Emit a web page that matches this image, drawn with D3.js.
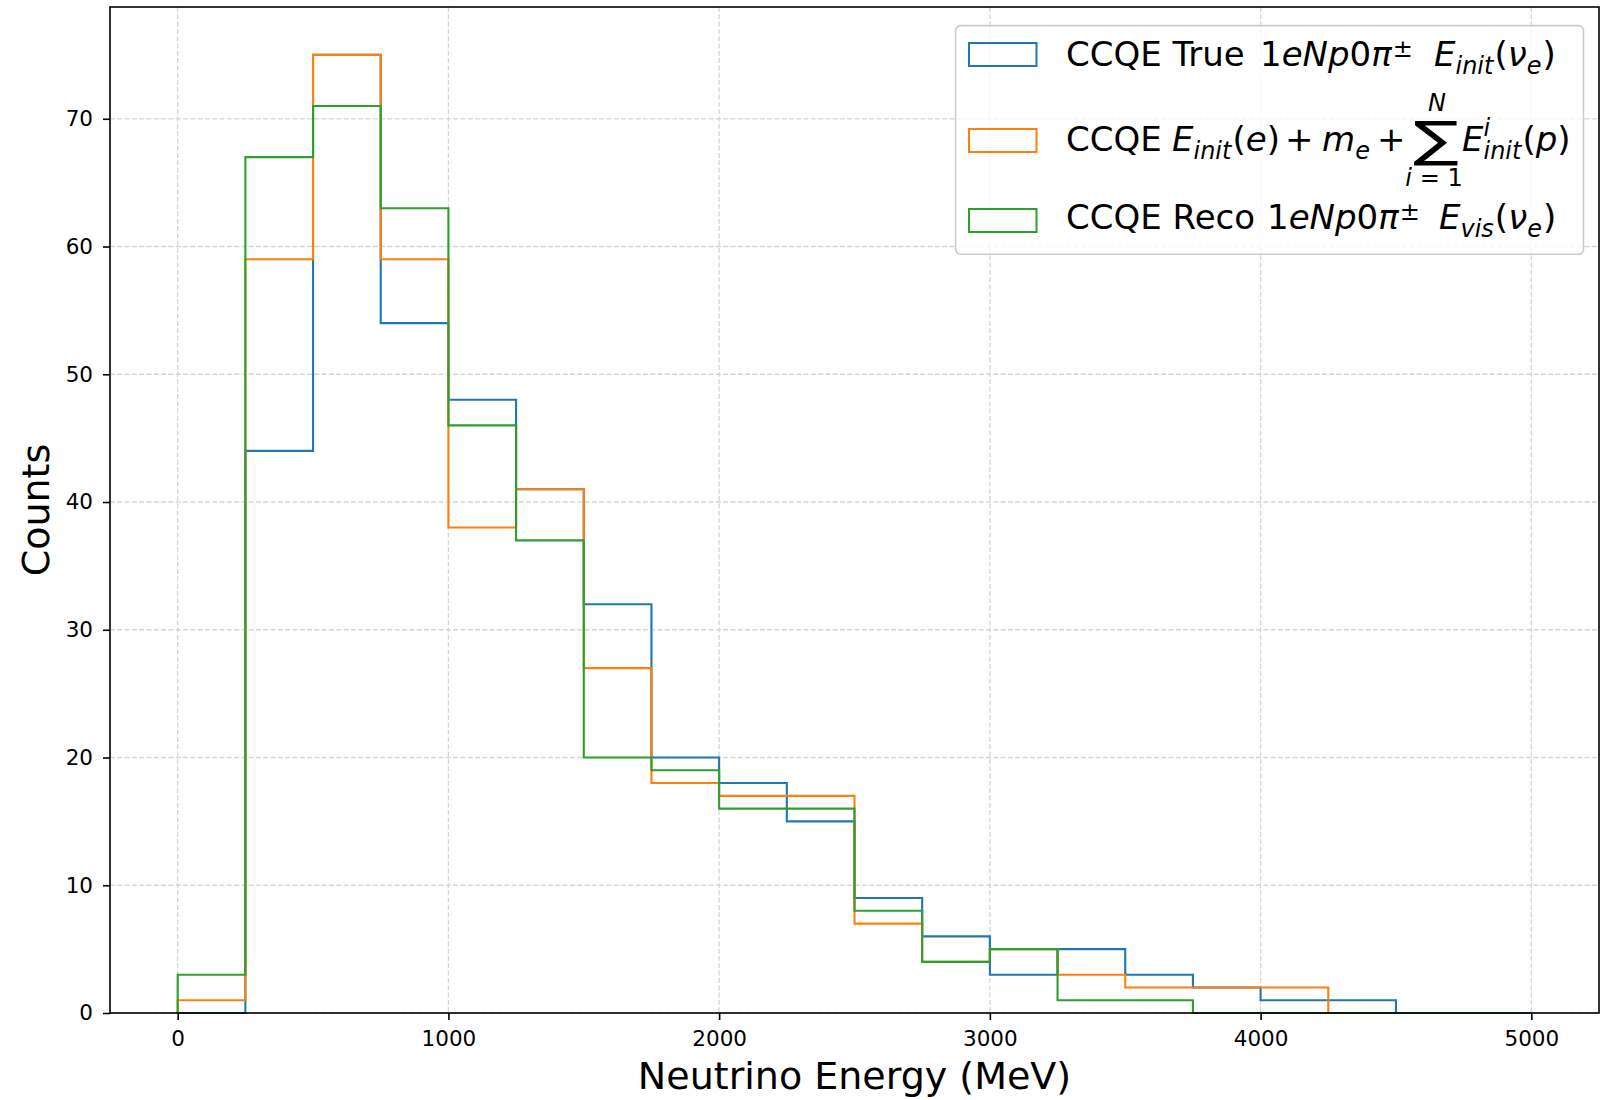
<!DOCTYPE html>
<html>
<head>
<meta charset="utf-8">
<script src="https://cdn.jsdelivr.net/npm/d3@7"></script>
<style>
  html, body { margin: 0; padding: 0; background: #fff; }
  svg { display: block; font-family: "DejaVu Sans", sans-serif; }
</style>
</head>
<body>
<svg id="chart" width="1606" height="1100"></svg>
<script>
// ---------------- data ----------------
const binEdges = [0, 250, 500, 750, 1000, 1250, 1500, 1750, 2000, 2250, 2500,
                  2750, 3000, 3250, 3500, 3750, 4000, 4250, 4500, 4750, 5000];
const trueCounts  = [0, 44, 75, 54, 48, 41, 32, 20, 18, 15, 9, 6, 3, 5, 3, 2, 1, 1, 0, 0];
const initCounts  = [1, 59, 75, 59, 38, 41, 27, 18, 17, 17, 7, 4, 5, 3, 2, 2, 2, 0, 0, 0];
const recoCounts  = [3, 67, 71, 63, 46, 37, 20, 19, 16, 16, 8, 4, 5, 1, 1, 0, 0, 0, 0, 0];
const seriesColors = ["#1f77b4", "#ff7f0e", "#2ca02c"];
const xTicks = [0, 1000, 2000, 3000, 4000, 5000];
const yTicks = [0, 10, 20, 30, 40, 50, 60, 70];
const xLabel = "Neutrino Energy (MeV)";
const yLabel = "Counts";

// ---------------- layout ----------------
const svg = d3.select("#chart");
const L = 110, R = 1599, T = 7, B = 1013;
const x = d3.scaleLinear().domain([-250, 5250]).range([L, R]);
const y = d3.scaleLinear().domain([0, 78.75]).range([B, T]);

// grid
const grid = svg.append("g");
grid.selectAll("line.gx").data(xTicks).enter().append("line")
  .attr("x1", d => x(d)).attr("x2", d => x(d)).attr("y1", T).attr("y2", B)
  .attr("stroke", "#d5d5d5").attr("stroke-width", 1.3).attr("stroke-dasharray", "5,2.3");
grid.selectAll("line.gy").data(yTicks).enter().append("line")
  .attr("x1", L).attr("x2", R).attr("y1", d => y(d)).attr("y2", d => y(d))
  .attr("stroke", "#d5d5d5").attr("stroke-width", 1.3).attr("stroke-dasharray", "5,2.3");

// histograms (step outlines)
const allCounts = [trueCounts, initCounts, recoCounts];
const line = d3.line().x(d => x(d[0])).y(d => y(d[1]));
allCounts.forEach((counts, si) => {
  const pts = [[binEdges[0], 0]];
  counts.forEach((c, i) => { pts.push([binEdges[i], c]); pts.push([binEdges[i + 1], c]); });
  pts.push([binEdges[binEdges.length - 1], 0]);
  svg.append("path").attr("d", line(pts)).attr("fill", "none")
    .attr("stroke", seriesColors[si]).attr("stroke-width", 2.1)
    .attr("stroke-linejoin", "miter");
});

// axes
const xAxis = svg.append("g").attr("transform", `translate(0,${B})`)
  .call(d3.axisBottom(x).tickValues(xTicks).tickSize(7).tickPadding(11).tickFormat(d3.format("d")));
const yAxis = svg.append("g").attr("transform", `translate(${L},0)`)
  .call(d3.axisLeft(y).tickValues(yTicks).tickSize(7).tickPadding(10).tickFormat(d3.format("d")));
[xAxis, yAxis].forEach(a => {
  a.select(".domain").remove();
  a.selectAll(".tick line").attr("stroke", "#000").attr("stroke-width", 1.6);
  a.selectAll(".tick text").attr("font-size", 21.5).attr("fill", "#000")
    .attr("font-family", "DejaVu Sans");
});
// frame
svg.append("rect").attr("x", L).attr("y", T).attr("width", R - L).attr("height", B - T)
  .attr("fill", "none").attr("stroke", "#000").attr("stroke-width", 1.6);

// axis labels
svg.append("text").attr("x", (L + R) / 2).attr("y", 1089).attr("text-anchor", "middle")
  .attr("font-size", 38).text(xLabel);
svg.append("text").attr("transform", `translate(49,${(T + B) / 2}) rotate(-90)`)
  .attr("text-anchor", "middle").attr("font-size", 38).text(yLabel);

// ---------------- legend ----------------
const lg = svg.append("g");
lg.append("rect").attr("x", 955.6).attr("y", 25.6).attr("width", 627.9).attr("height", 228.7)
  .attr("rx", 5).attr("ry", 5).attr("fill", "#fff").attr("fill-opacity", 0.8)
  .attr("stroke", "#cccccc").attr("stroke-width", 1.6);

const handleY = [43, 129, 209];
seriesColors.forEach((c, i) => {
  lg.append("rect").attr("x", 969).attr("y", handleY[i]).attr("width", 67.5).attr("height", 23)
    .attr("fill", "none").attr("stroke", c).attr("stroke-width", 2);
});

const FS = 34, SS = 24;
function run(baseY, startX, pieces) {
  let cx = startX;
  pieces.forEach(p => {
    if (p.at !== undefined) cx = p.at;
    const t = lg.append("text").attr("x", cx).attr("y", baseY + (p.dy || 0))
      .attr("font-size", p.size || FS)
      .attr("font-style", p.it ? "italic" : "normal")
      .attr("fill", "#000").text(p.t);
    const w = t.node().getComputedTextLength();
    if (!p.noAdv) cx += w + (p.after || 0);
  });
  return cx;
}
const SUB = 8, SUP = -9;

// line 1
run(66, 1066, [
  { t: "CCQE True" },
  { t: "1", at: 1260 }, { t: "eNp", it: true }, { t: "0" }, { t: "π", it: true, after: 1 },
  { t: "±", size: SS, dy: SUP },
  { t: "E", it: true, at: 1434 }, { t: "init", it: true, size: SS, dy: SUB, after: 1 },
  { t: "(" }, { t: "ν", it: true }, { t: "e", it: true, size: SS, dy: SUB, after: 1 }, { t: ")" }
]);

// line 2
const b2 = 151;
run(b2, 1066, [
  { t: "CCQE" },
  { t: "E", it: true, at: 1172 }, { t: "init", it: true, size: SS, dy: SUB, after: 1 },
  { t: "(" }, { t: "e", it: true }, { t: ")" },
  { t: "+", at: 1285 },
  { t: "m", it: true, at: 1322 }, { t: "e", it: true, size: SS, dy: SUB },
  { t: "+", at: 1377 },
  { t: "E", it: true, at: 1462 },
  { t: "i", it: true, size: SS, dy: -15, noAdv: true },
  { t: "init", it: true, size: SS, dy: SUB, after: 1 },
  { t: "(" }, { t: "p", it: true }, { t: ")" }
]);
// summation sign fitted into its box
(function () {
  const box = { x0: 1413, x1: 1455, y0: 118, y1: 162 };
  const s = lg.append("text").attr("x", 0).attr("y", 0).attr("font-size", 50).text("∑");
  const bb = s.node().getBBox();
  const sx = (box.x1 - box.x0) / (bb.width * 0.92);
  const sy = (box.y1 - box.y0) / (bb.height * 0.78);
  s.attr("transform", `translate(${box.x0 - bb.x * sx},${box.y0 - (bb.y + bb.height * 0.12) * sy}) scale(${sx},${sy})`);
  const cxm = (box.x0 + box.x1) / 2;
  lg.append("text").attr("x", cxm + 3).attr("y", 111).attr("text-anchor", "middle")
    .attr("font-size", SS).attr("font-style", "italic").text("N");
  const low = lg.append("text").attr("x", cxm).attr("y", 186).attr("text-anchor", "middle")
    .attr("font-size", SS);
  low.append("tspan").attr("font-style", "italic").text("i");
  low.append("tspan").text(" = 1");
})();

// line 3
run(229, 1066, [
  { t: "CCQE Reco" },
  { t: "1", at: 1267 }, { t: "eNp", it: true }, { t: "0" }, { t: "π", it: true, after: 1 },
  { t: "±", size: SS, dy: SUP },
  { t: "E", it: true, at: 1439 }, { t: "vis", it: true, size: SS, dy: SUB, after: 1 },
  { t: "(" }, { t: "ν", it: true }, { t: "e", it: true, size: SS, dy: SUB, after: 1 }, { t: ")" }
]);
</script>
</body>
</html>
